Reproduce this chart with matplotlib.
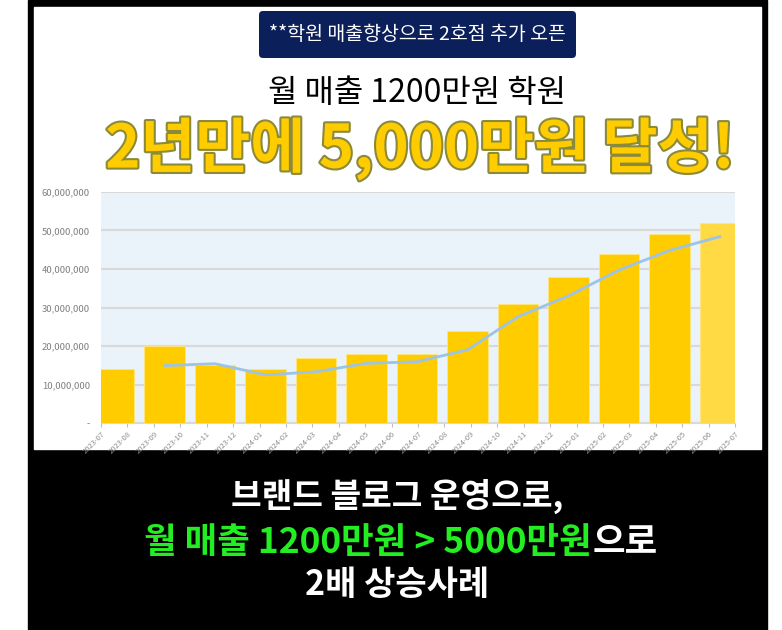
import matplotlib
matplotlib.use("Agg")
import matplotlib.pyplot as plt
import matplotlib.patheffects as pe
from matplotlib.patches import Rectangle, FancyBboxPatch
import numpy as np

plt.rcParams['font.family'] = ['Noto Sans CJK KR', 'DejaVu Sans']

# data
months = ['2023-07', '2023-08', '2023-09', '2023-10', '2023-11', '2023-12',
          '2024-01', '2024-02', '2024-03', '2024-04', '2024-05', '2024-06',
          '2024-07', '2024-08', '2024-09', '2024-10', '2024-11', '2024-12',
          '2025-01', '2025-02', '2025-03', '2025-04', '2025-05', '2025-06',
          '2025-07']
sales = [14e6, 20e6, 15e6, 14e6, 17e6, 18e6, 18e6, 24e6, 31e6, 38e6, 44e6, 49e6, 52e6]
trend = [14.9e6, 15.4e6, 12.5e6, 13.3e6, 15.5e6, 15.9e6, 19.0e6, 27.6e6,
         33.0e6, 39.7e6, 44.8e6, 48.4e6]
y_ticks = [0, 10e6, 20e6, 30e6, 40e6, 50e6, 60e6]

banner = '**학원 매출향상으로 2호점 추가 오픈'
title1 = '월 매출 1200만원 학원'
title2 = '2년만에 5,000만원 달성!'
bottom1 = '브랜드 블로그 운영으로,'
bottom2_green = '월 매출 1200만원 > 5000만원'
bottom2_white = '으로'
bottom3 = '2배 상승사례'

W, H = 782, 630
fig = plt.figure(figsize=(W / 100, H / 100), dpi=100)
fig.patch.set_facecolor('white')

# background layer in pixel coords
bg = fig.add_axes([0, 0, 1, 1])
bg.set_xlim(0, W)
bg.set_ylim(H, 0)
bg.axis('off')
bg.add_patch(Rectangle((28, 0), 739, H, color='black'))
bg.add_patch(Rectangle((34, 7), 727, 442, color='white'))
bg.add_patch(FancyBboxPatch((259, 11), 317, 47, boxstyle='round,pad=0,rounding_size=4',
                            facecolor='#0B1F5B', edgecolor='none'))

bg.text(417, 35, banner, color='white', fontsize=14, fontweight='medium',
        ha='center', va='center')
bg.text(417, 93, title1, color='black', fontsize=23, ha='center', va='center')
bg.text(420, 149, title2, color='#FFCC00', fontsize=43, fontweight='black',
        ha='center', va='center',
        path_effects=[pe.Stroke(linewidth=3, foreground='#8A8A3A'), pe.Normal()])

bg.text(397, 496, bottom1, color='white', fontsize=24, fontweight='bold',
        ha='center', va='center')
tg = bg.text(0, 542, bottom2_green, color='#22EE22', fontsize=25.5, fontweight='bold',
             ha='left', va='center')
tw = bg.text(0, 542, bottom2_white, color='white', fontsize=25.5, fontweight='bold',
             ha='left', va='center')
bg.text(397, 584, bottom3, color='white', fontsize=24.5, fontweight='bold',
        ha='center', va='center')

fig.canvas.draw()
r = fig.canvas.get_renderer()
w1 = tg.get_window_extent(r).width
w2 = tw.get_window_extent(r).width
x0 = 401 - (w1 + w2) / 2
tg.set_x(x0)
tw.set_x(x0 + w1)

# chart
left, right, top, bottom = 101, 735, 192, 423
ax = fig.add_axes([left / W, (H - bottom) / H, (right - left) / W, (bottom - top) / H])
ax.set_facecolor('#EAF2FA')

x = np.arange(len(sales))
colors = ['#FFCC00'] * (len(sales) - 1) + ['#FFDA45']
ax.bar(x, sales, width=0.8, color=colors, edgecolor='#FFE680', linewidth=0.6, zorder=2)
ax.plot(x[1:], trend, color='#9DC3E6', linewidth=2, zorder=3)

ax.set_xlim(-0.26, 12.3)
ax.set_ylim(0, 60e6)
ax.set_yticks(y_ticks)
ax.set_yticklabels(['-'] + [f'{int(v):,}' for v in y_ticks[1:]])
ax.grid(axis='y', color='#D9D9D9', linewidth=1.5, zorder=0)
ax.set_axisbelow(True)

ax.set_xticks(np.linspace(-0.26, 12.3, len(months)))
ax.set_xticklabels(months, rotation=45, ha='right', rotation_mode='anchor')
ax.tick_params(axis='x', colors='#BFBFBF', labelcolor='#8C8C8C', labelsize=5.5,
               length=3, width=0.8, pad=2)
ax.tick_params(axis='y', length=0, labelcolor='#7F7F7F', labelsize=6.8, pad=8)

for s in ['left', 'right', 'top']:
    ax.spines[s].set_visible(False)
ax.spines['bottom'].set_color('#D9D9D9')

fig.savefig('out.png', dpi=100)
